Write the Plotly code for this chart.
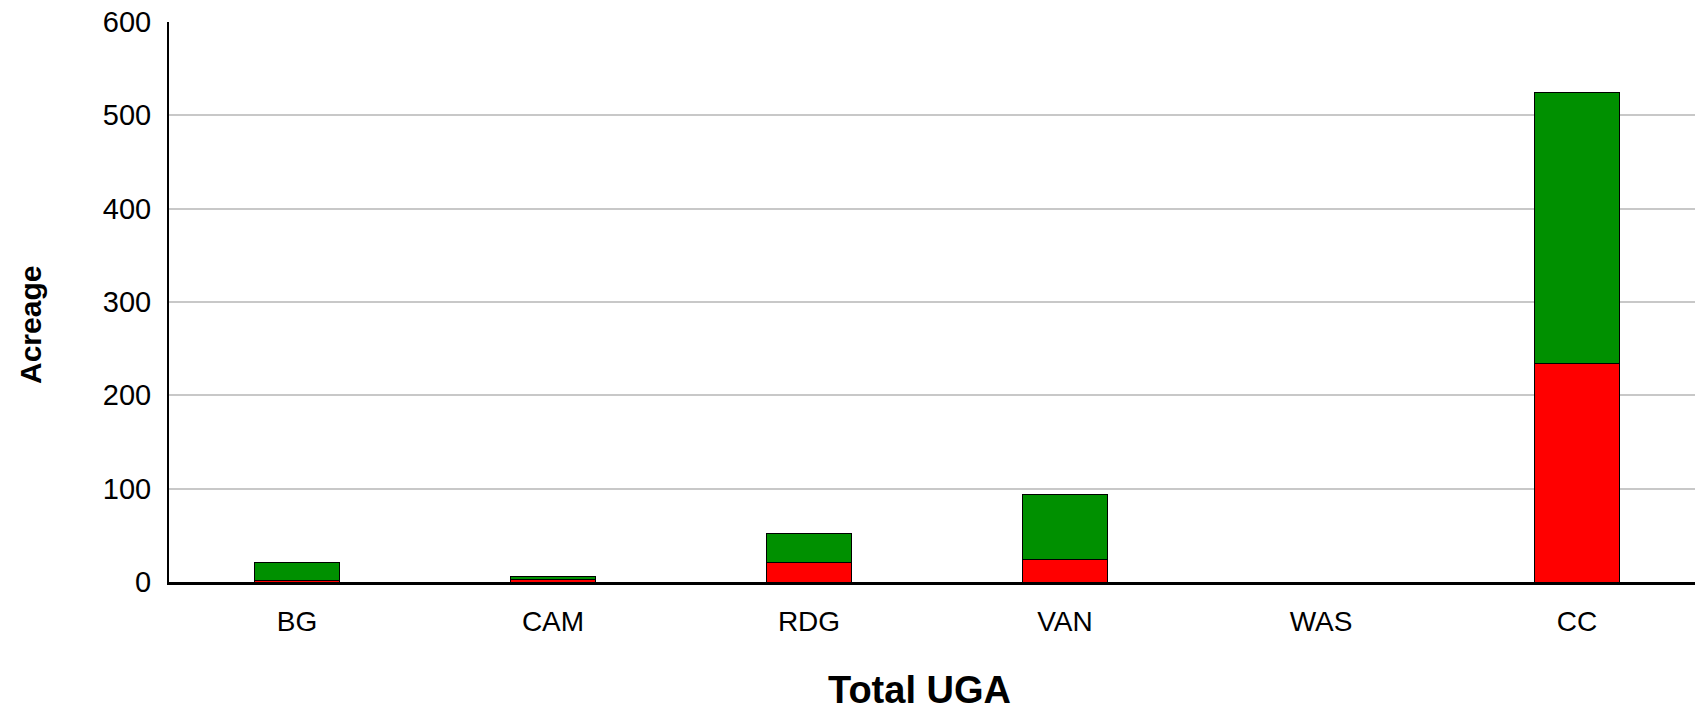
import plotly.graph_objects as go

categories = ["BG", "CAM", "RDG", "VAN", "WAS", "CC"]
red_values = [1.5, 3, 21, 24, 0, 234]
green_values = [19.5, 3, 31, 70, 0, 291]
y_ticks = [0, 100, 200, 300, 400, 500, 600]

W, H = 1695, 712
ML, MR, MT, MB = 169, 0, 22, 130
PW = W - ML - MR
PH = H - MT - MB

def px_to_paper_x(px):
    return (px - ML) / PW

def px_to_paper_y(py):
    return (H - MB - py) / PH

font_family = "Liberation Sans, Arial, sans-serif"

fig = go.Figure()
fig.add_trace(go.Bar(
    x=categories, y=red_values, name="red",
    marker=dict(color="#FF0000", line=dict(color="#000000", width=1)),
    width=0.33,
))
fig.add_trace(go.Bar(
    x=categories, y=green_values, name="green",
    marker=dict(color="#009000", line=dict(color="#000000", width=1)),
    width=0.33,
))

fig.update_layout(
    width=W, height=H,
    margin=dict(l=ML, r=MR, t=MT, b=MB, pad=0),
    barmode="stack",
    showlegend=False,
    plot_bgcolor="white",
    paper_bgcolor="white",
    font=dict(family=font_family, color="black"),
    xaxis=dict(
        type="category",
        range=[-0.5, -0.5 + PW / 256.0],
        showgrid=False,
        showline=True, linecolor="black", linewidth=3,
        ticks="outside", ticklen=12, tickcolor="rgba(0,0,0,0)",
        tickfont=dict(size=28, family=font_family, color="black"),
    ),
    yaxis=dict(
        range=[0, 600],
        tickvals=y_ticks,
        ticktext=[str(v) for v in y_ticks],
        showgrid=True, gridcolor="#c8c8c8", gridwidth=1.5,
        showline=True, linecolor="black", linewidth=2,
        zeroline=False,
        ticks="outside", ticklen=10, tickcolor="rgba(0,0,0,0)",
        tickfont=dict(size=29, family=font_family, color="black"),
    ),
    annotations=[
        dict(
            text="<b>Total UGA</b>", showarrow=False,
            xref="paper", yref="paper",
            x=px_to_paper_x(919), y=px_to_paper_y(690),
            xanchor="center", yanchor="middle",
            font=dict(size=38, family=font_family, color="black"),
        ),
        dict(
            text="<b>Acreage</b>", showarrow=False, textangle=-90,
            xref="paper", yref="paper",
            x=px_to_paper_x(30), y=px_to_paper_y(325),
            xanchor="center", yanchor="middle",
            font=dict(size=30, family=font_family, color="black"),
        ),
    ],
)

fig.write_html(
    "out.html",
    config={"displayModeBar": False},
    post_script="document.body.style.margin='0';document.body.style.overflow='hidden';",
)
